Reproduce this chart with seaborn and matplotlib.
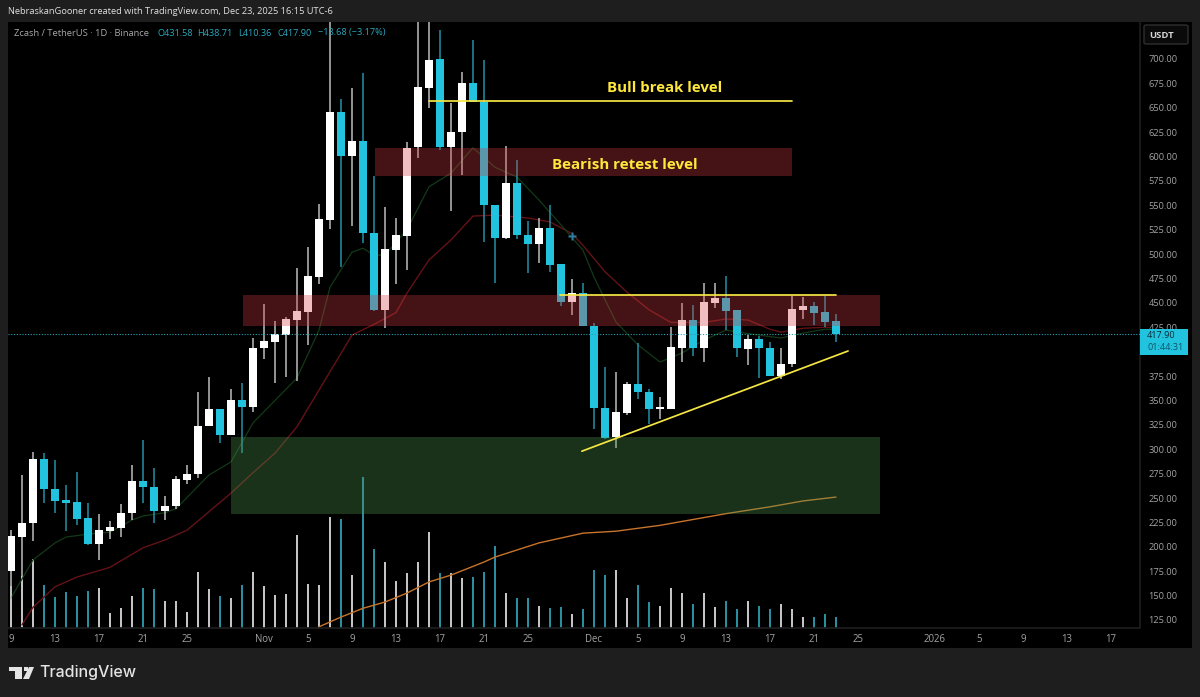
#!/usr/bin/env python3
# Zcash / TetherUS daily candles, TradingView style
import numpy as np
import pandas as pd
import seaborn as sns
import matplotlib
matplotlib.use("Agg")
import matplotlib.pyplot as plt
from matplotlib.patches import Rectangle, Polygon, FancyBboxPatch

# day 0 = Oct 9
open_ = [175, 210, 224.4, 290, 259, 248, 246, 229.5, 203, 216.2, 219, 235, 267, 261, 237, 242, 268.5, 274.6, 323.8, 341,
         314.6, 350.5, 343, 403.8, 410, 417, 432.5, 440.7, 476.5, 535, 645.7, 600.6, 616, 521.6, 442.7, 504, 518.6, 610, 670, 700,
         610, 625, 675, 656, 550, 516.5, 573, 520, 510, 526.8, 490, 451, 460, 426, 342, 312.5, 337, 367, 358.7, 341,
         341, 403.8, 432.5, 403.8, 450, 455, 442.7, 402.7, 413, 403.8, 375, 387.4, 442.7, 447, 440.7, 431.58]
close = [211, 224, 290, 259, 247, 245, 228.5, 203, 217, 220, 235, 267, 261, 237, 242, 269.5, 274.6, 323.8, 341, 314.6,
         350.5, 343, 403.8, 411, 418, 433.5, 441.7, 477.6, 536, 645.7, 600.6, 616, 521.6, 442.7, 505, 520, 608.8, 671, 699, 610,
         625, 675, 656, 550, 516.5, 573, 520, 510, 526.8, 489, 451, 460, 426, 342, 311.5, 338, 367, 358.7, 341, 343,
         405, 432.5, 403.8, 451, 455, 441.7, 403.8, 413, 403.8, 375, 387.4, 443.7, 447, 439.6, 430.4, 417.9]
high = [217, 273.6, 297, 296, 289, 263, 277, 245, 234, 226, 244, 284, 309.5, 281, 252, 272.6, 284, 358.7, 374, 341,
        361.7, 368, 414, 449, 431, 435.5, 486, 507, 551, 770, 659, 670, 686, 580, 548, 537, 615, 740, 760, 730,
        655, 687, 719.5, 699, 550, 611, 596.5, 534, 537, 550, 490, 474.5, 470, 429, 384, 379, 369, 409, 362, 353.5,
        425, 450, 448, 470.4, 470, 477.6, 442.7, 417, 416, 410, 403.8, 457, 456, 451, 457, 438.71]
low = [145, 170, 206, 245, 235, 216, 222, 202, 186.5, 208, 210, 228, 245, 224, 227.5, 239, 264, 270.5, 323.8, 306,
       314.6, 296, 338, 393, 368, 374, 370, 407, 469, 526, 487, 529, 511, 442, 424, 469, 484, 598.5, 650, 607,
       544, 581, 656, 512, 470, 515.5, 515.5, 480.6, 491, 482, 447, 437.6, 426, 321, 310.5, 301, 335, 351.5, 326, 331,
       341, 389.4, 395.6, 389.4, 445, 422, 394.5, 386, 373, 375, 372, 384, 433.5, 427, 425, 410.36]
volume = [42, 52, 69, 43, 31, 36, 32, 37, 40, 15, 20, 32, 40, 39, 27, 27, 16, 56, 39, 32,
          30, 43, 56, 42, 33, 34, 93, 44, 43, 111, 109, 53, 151, 79, 66, 47, 55, 66, 96, 55,
          55, 50, 51, 56, 82, 35, 30, 30, 22, 20, 21, 14, 19, 58, 53, 58, 30, 43, 26, 22,
          40, 35, 24, 35, 21, 27, 19, 27, 22, 19, 24, 19, 11, 11, 14, 11]

red_days = [1, 2, 4, 6, 9, 12, 14, 16, 18, 20, 22, 24, 26, 31, 33, 35, 36, 38, 40, 42, 44, 47, 49, 51, 52, 54, 56, 58, 60,
            63, 65, 67, 69, 70, 72, 74, 75]
red_vals = [120, 138, 159, 169, 179, 199, 207, 217, 236, 255, 276, 296, 323, 417, 428, 440, 460, 494, 514.5, 539, 540, 537,
            533, 521, 509, 482, 461, 443, 430, 430, 433.5, 432.5, 423, 420, 424, 425, 425]
green_days = [0, 2, 4, 5, 7, 9, 11, 12, 14, 15, 18, 20, 22, 26, 28, 29, 31, 32, 33, 34, 36, 38, 40, 42, 44, 46, 48, 50, 52,
              53, 55, 57, 59, 61, 63, 65, 68, 70, 72, 74, 75]
green_vals = [147.5, 186.5, 204, 210, 213, 215, 227.5, 231.6, 235, 239, 273.6, 287, 327, 373, 422, 466, 502, 506, 499, 499,
              525, 569, 583, 609, 589, 579, 555.5, 530, 504, 476.5, 430.4, 407, 389.4, 398.6, 412, 422, 417, 414, 419, 423, 423]
orange_days = [28, 30, 32, 34, 36, 38, 40, 43, 44, 48, 52, 55, 59, 65, 69, 72, 75]
orange_vals = [118, 128, 137, 143.4, 152.6, 164, 171, 184.4, 189.5, 204, 214, 216, 222, 234, 241, 247, 251]

price_ticks = [125, 150, 175, 200, 225, 250, 275, 300, 325, 350, 375, 400, 425, 450, 475, 500, 525, 550, 575, 600, 625, 650, 675, 700]
date_ticks = [0, 4, 8, 12, 16, 23, 27, 31, 35, 39, 43, 47, 53, 57, 61, 65, 69, 73, 77, 84, 88, 92, 96, 100]
date_labels = ["9", "13", "17", "21", "25", "Nov", "5", "9", "13", "17", "21", "25", "Dec", "5", "9", "13", "17", "21", "25",
               "2026", "5", "9", "13", "17"]

red_zones = [(21.1, 79, 426, 458), (33.1, 71, 580, 608.5)]
green_zone = (20, 79, 233.6, 312.5)
level_lines = [(38, 71, 657, 657), (49.9, 75, 458, 458), (51.9, 76.1, 298, 400.7)]
last_price = 417.9

W, H = 1200, 697
UP, DOWN = "#ffffff", "#22c3de"
BG = "#1e1e1e"

sns.set_theme(style="dark", rc={"axes.grid": False})
plt.rcParams["font.family"] = ["Open Sans", "DejaVu Sans"]


def fx(x):
    return x / W


def fy(y):
    return 1 - y / H


fig = plt.figure(figsize=(W / 100, H / 100), dpi=100, facecolor=BG)
fig.patches.append(Rectangle((fx(8), fy(648)), fx(1192 - 8), (648 - 22) / H, transform=fig.transFigure,
                             facecolor="black", edgecolor="none", zorder=-1))

rect = [fx(8), fy(628), fx(1140 - 8), (628 - 22) / H]
ax_vol = fig.add_axes(rect, facecolor="black")
ax = fig.add_axes(rect, facecolor="none")
ax_vol.set_zorder(1)
ax.set_zorder(2)

days = np.arange(len(open_))
up = np.array(close) >= np.array(open_)
df = pd.DataFrame({"day": days, "volume": volume, "dir": np.where(up, "up", "down"),
                   "open": open_, "close": close, "high": high, "low": low})

# volume pane
sns.barplot(data=df, x="day", y="volume", hue="dir", hue_order=["up", "down"], palette={"up": "#c4c4c4", "down": "#2a8ea3"},
            native_scale=True, dodge=False, width=0.14, saturation=1, legend=False, linewidth=0, ax=ax_vol)
ax_vol.set_xlim(-0.27, 102.64)
ax_vol.set_ylim(0, 606)
ax_vol.set_xticks([])
ax_vol.set_yticks([])
ax_vol.set_xlabel("")
ax_vol.set_ylabel("")

# moving averages
sns.lineplot(x=orange_days, y=orange_vals, color="#c8742a", lw=1.0, ax=ax, zorder=1)
sns.lineplot(x=red_days, y=red_vals, color="#641216", lw=1.0, ax=ax, zorder=1)
sns.lineplot(x=green_days, y=green_vals, color="#123a18", lw=0.9, ax=ax, zorder=1)

# candles
ax.vlines(df["day"], df["low"], df["high"], colors=np.where(up, "#bdbdbd", "#2490a4"), lw=1.1, zorder=2)
ax.bar(df["day"], np.abs(df["close"] - df["open"]), bottom=df[["open", "close"]].min(axis=1), width=0.8,
       color=np.where(up, UP, DOWN), linewidth=0, zorder=3)

# zones
for x0, x1, y0, y1 in red_zones:
    ax.add_patch(Rectangle((x0, y0), x1 - x0, y1 - y0, facecolor="#d43c42", alpha=0.33, edgecolor="none", zorder=4))
x0, x1, y0, y1 = green_zone
ax.add_patch(Rectangle((x0, y0), x1 - x0, y1 - y0, facecolor="#509650", alpha=0.33, edgecolor="none", zorder=4))

# drawn levels
for x0, x1, y0, y1 in level_lines:
    ax.plot([x0, x1], [y0, y1], color="#f5e642", lw=1.25, zorder=5)

ax.axhline(last_price, color="#2a9fb4", lw=0.8, ls=(0, (1, 1.5)), zorder=5)
ax.plot([51], [518.6], marker="P", ms=6, color="#2b7ca0", mec="none", zorder=5)
ax.text(59.45, 670.5, "Bull break level", color="#ffe83b", fontsize=10.85, fontweight="bold", ha="center", va="center", zorder=6)
ax.text(55.8, 591.5, "Bearish retest level", color="#ffe83b", fontsize=10.9, fontweight="bold", ha="center", va="center", zorder=6)

ax.set_xlim(-0.27, 102.64)
ax.set_ylim(116.8, 737.9)
ax.yaxis.tick_right()
ax.set_yticks(price_ticks)
ax.set_yticklabels([f"{p:.2f}" for p in price_ticks])
ax.set_xticks(date_ticks)
ax.set_xticklabels(date_labels)
ax.tick_params(axis="y", length=0, pad=6, labelsize=6.7, labelcolor="#a3a3a3")
ax.tick_params(axis="x", length=0, pad=4, labelsize=6.9, labelcolor="#a3a3a3")
ax.set_xlabel("")
ax.set_ylabel("")
for s in ax.spines.values():
    s.set_visible(False)
for s in ax_vol.spines.values():
    s.set_visible(False)
ax.spines["right"].set_visible(True)
ax.spines["right"].set_color("#1c1c1c")
ax.spines["bottom"].set_visible(True)
ax.spines["bottom"].set_color("#1c1c1c")

# header and legend row
fig.text(fx(8), fy(12), "NebraskanGooner created with TradingView.com, Dec 23, 2025 16:15 UTC-6",
         color="#e0e0e0", fontsize=6.63, va="center", zorder=10)
fig.text(fx(14), fy(33), "Zcash / TetherUS · 1D · Binance", color="#a8a8a8", fontsize=6.75, va="center", zorder=10)
for xpos, label in [(157, "O431.58"), (197, "H438.71"), (238, "L410.36"), (277, "C417.90"), (318, "−13.68 (−3.17%)")]:
    fig.text(fx(xpos), fy(33), label, color="#2aa9c0", fontsize=6.6, va="center", zorder=10)

# price scale furniture
fig.patches.append(FancyBboxPatch((fx(1144), fy(44)), 44 / W, 19 / H, boxstyle="round,pad=0,rounding_size=0.002",
                                  transform=fig.transFigure, facecolor="#0a0a0a", edgecolor="#2e2e2e", lw=1, zorder=8))
fig.text(fx(1149), fy(35), "USDT", color="#d5d5d5", fontsize=6.8, fontweight="bold", va="center", zorder=10)
fig.patches.append(Rectangle((fx(1140), fy(355)), 48 / W, 26 / H, transform=fig.transFigure,
                             facecolor="#22c3de", edgecolor="none", zorder=8))
fig.text(fx(1147), fy(335.5), "417.90", color="#0b2b36", fontsize=6.6, va="center", zorder=10)
fig.text(fx(1147), fy(347.5), "01:44:31", color="#0d5566", fontsize=6.6, va="center", zorder=10)

# TradingView mark
logo = "#e4e4e4"
polys = [[(9, 667), (22, 667), (22, 679), (15, 679), (15, 671), (9, 671)],
         [(29, 667), (34, 667), (29, 679), (23, 679)]]
for pts in polys:
    fig.patches.append(Polygon([(fx(a), fy(b)) for a, b in pts], transform=fig.transFigure, facecolor=logo, edgecolor="none"))
fig.patches.append(Rectangle((fx(24), fy(671)), 4 / W, 4 / H, transform=fig.transFigure, facecolor=logo, edgecolor="none"))
fig.text(fx(39), fy(673), "TradingView", color=logo, fontsize=11.55, fontweight="medium", family="Inter", va="center")

plt.savefig("out.png", dpi=100, facecolor=fig.get_facecolor())
